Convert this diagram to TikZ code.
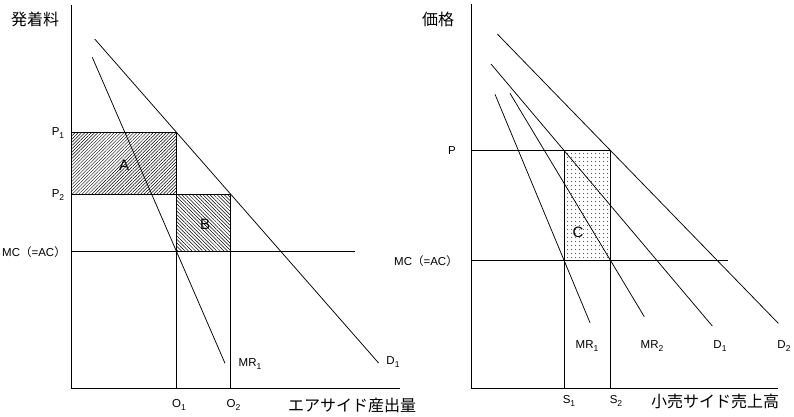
\documentclass[tikz,border=0pt]{standalone}
\usepackage{fontspec}
\setmainfont{Liberation Sans}
\newfontfamily\jp{Noto Sans CJK JP}
\usetikzlibrary{patterns.meta}
\newcommand{\sbx}[1]{\raisebox{-0.35ex}{\fontsize{8.5}{10}\selectfont #1}}
\begin{document}
\begin{tikzpicture}[x=1pt,y=-1pt,
  ln/.style={line width=0.85pt, black},
  curve/.style={line width=0.75pt, black},
  lbl/.style={font=\fontsize{11.5}{13}\selectfont, inner sep=0pt},
  jlbl/.style={font=\jp\fontsize{16}{18}\selectfont, inner sep=0pt},
  big/.style={font=\fontsize{15}{17}\selectfont, inner sep=0pt},
  hatchA/.style={pattern={Lines[angle=45,distance=2.3pt,line width=0.5pt]}},
  hatchB/.style={pattern={Lines[angle=-45,distance=2.5pt,line width=0.5pt]}},
  dotsC/.style={pattern={Dots[distance=4pt,radius=0.6pt]}}]
\useasboundingbox (0,0) rectangle (794,416);
\fill[white] (0,0) rectangle (794,416);

% ---------------- left panel ----------------
\coordinate (LO) at (71,388);
\coordinate (LYt) at (71,5);
\coordinate (LXe) at (400,388);
\coordinate (LP1) at (71,132.3);
\coordinate (LP2) at (71,194.3);
\coordinate (LMC) at (71,251.7);
\coordinate (LQ1) at (176.3,132.3);
\coordinate (LA2) at (176.3,194.3);
\coordinate (LQ2) at (230.7,194.3);
\coordinate (LB1) at (176.3,251.7);
\coordinate (LB2) at (230.7,251.7);
\coordinate (LO1) at (176.3,388);
\coordinate (LO2) at (230.7,388);
\coordinate (LMCe) at (355,251.7);
\coordinate (LD1s) at (94.7,39);
\coordinate (LD1e) at (378.6,363);
\coordinate (LM1s) at (92.3,57.3);
\coordinate (LM1e) at (225,363.3);

\fill[hatchA] (LP1) rectangle (LA2);
\fill[hatchB] (LA2) rectangle (LB2);
\draw[ln] (LP1) -- (LQ1) -- (LO1);
\draw[ln] (LP2) -- (LQ2) -- (LO2);
\draw[ln] (LMC) -- (LMCe);
\draw[ln] (LYt) -- (LO) -- (LXe);
\draw[curve] (LD1s) -- (LD1e);
\draw[curve] (LM1s) -- (LM1e);

\node[jlbl] (lyl) at (35,19) {発着料};
\node[lbl] (lp1) at (58,133) {P\sbx{1}};
\node[lbl] (lp2) at (58,195) {P\sbx{2}};
\node[lbl] (lmc) at (34,252) {MC{\jp （}=AC{\jp ）}};
\node[big] (la) at (124,165) {A};
\node[big] (lb) at (205,224) {B};
\node[lbl] (lmr1) at (250,364) {MR\sbx{1}};
\node[lbl] (ld1) at (393,362) {D\sbx{1}};
\node[lbl] (lo1) at (179,405) {O\sbx{1}};
\node[lbl] (lo2) at (233.5,405) {O\sbx{2}};
\node[jlbl] (lxl) at (352,405) {エアサイド産出量};

% ---------------- right panel ----------------
\coordinate (RO) at (471.7,388);
\coordinate (RYt) at (471.7,4);
\coordinate (RXe) at (778,388);
\coordinate (RP) at (471.7,150.7);
\coordinate (RMC) at (471.7,260.7);
\coordinate (RC1) at (564.3,150.7);
\coordinate (RC2) at (610,150.7);
\coordinate (RC3) at (610,260.7);
\coordinate (RC4) at (564.3,260.7);
\coordinate (RS1) at (564.3,388);
\coordinate (RS2) at (610,388);
\coordinate (RMCe) at (728.3,260.7);
\coordinate (RD2s) at (497.3,34);
\coordinate (RD2e) at (778.3,323.3);
\coordinate (RD1s) at (491,64);
\coordinate (RD1e) at (712.3,326);
\coordinate (RM2s) at (510,93.3);
\coordinate (RM2e) at (644.3,316.7);
\coordinate (RM1s) at (495,94.3);
\coordinate (RM1e) at (590,322.7);

\fill[dotsC] (RC1) rectangle (RC3);
\draw[ln] (RP) -- (RC2);
\draw[ln] (RMC) -- (RMCe);
\draw[ln] (RC1) -- (RS1);
\draw[ln] (RC2) -- (RS2);
\draw[ln] (RYt) -- (RO) -- (RXe);
\draw[curve] (RD2s) -- (RD2e);
\draw[curve] (RD1s) -- (RD1e);
\draw[curve] (RM2s) -- (RM2e);
\draw[curve] (RM1s) -- (RM1e);

\node[jlbl] (ryl) at (438,19) {価格};
\node[lbl] (rp) at (452,151) {P};
\node[lbl] (rmc) at (426,261) {MC{\jp （}=AC{\jp ）}};
\node[big] (rc) at (578,232) {C};
\node[lbl] (rmr1) at (587,346) {MR\sbx{1}};
\node[lbl] (rmr2) at (652,346) {MR\sbx{2}};
\node[lbl] (rd1) at (720,346) {D\sbx{1}};
\node[lbl] (rd2) at (784,346) {D\sbx{2}};
\node[lbl] (rs1) at (569,401) {S\sbx{1}};
\node[lbl] (rs2) at (616,401) {S\sbx{2}};
\node[jlbl] (rxl) at (715,401) {小売サイド売上高};
\end{tikzpicture}
\end{document}
